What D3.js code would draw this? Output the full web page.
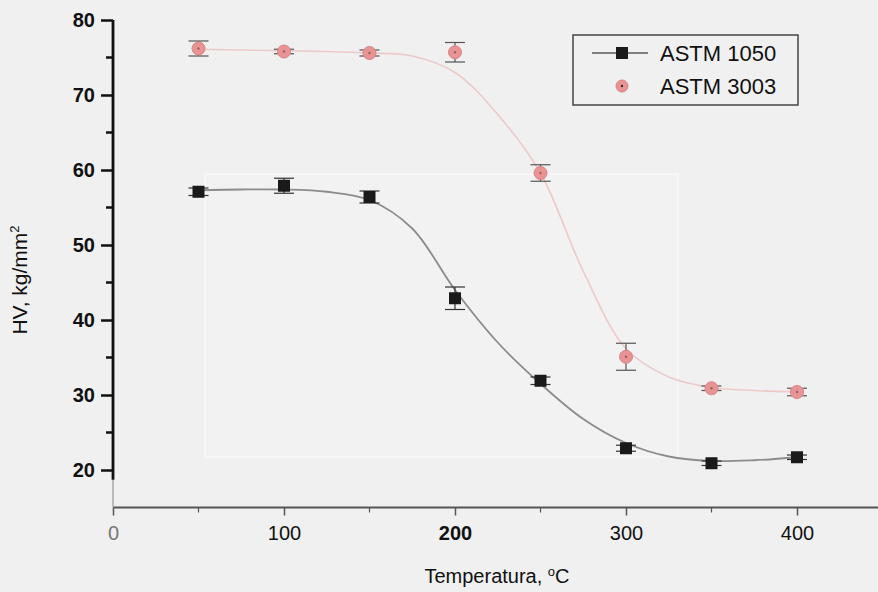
<!DOCTYPE html>
<html>
<head>
<meta charset="utf-8">
<script src="https://cdn.jsdelivr.net/npm/d3@7"></script>
<style>
  body { margin: 0; background: #f0f0f0; }
  svg { display: block; font-family: "Liberation Sans", Arial, sans-serif; }
</style>
</head>
<body>
<div id="chart"></div>
<script>
// data
var temps = [50, 100, 150, 200, 250, 300, 350, 400];
var hv1050 = [57.1, 57.9, 56.4, 42.9, 31.9, 22.9, 20.9, 21.7];
var err1050 = [0.5, 1.0, 0.8, 1.5, 0.5, 0.4, 0.3, 0.3];
var hv3003 = [76.2, 75.8, 75.6, 75.7, 59.6, 35.1, 30.9, 30.4];
var err3003 = [1.0, 0.3, 0.4, 1.3, 1.1, 1.8, 0.3, 0.5];

// fitted curves, points
var fitTemps = [50, 75, 100, 125, 150, 175, 200, 225, 250, 275, 300, 325, 350, 375, 400];
var fit1050 = [57.3, 57.4, 57.4, 57.1, 56.0, 52.2, 44.0, 37.0, 31.5, 26.8, 23.6, 21.8, 21.2, 21.3, 21.7];
var fit3003 = [76.1, 76.0, 75.9, 75.8, 75.6, 75.2, 73.0, 67.4, 59.6, 46.5, 36.2, 32.4, 31.0, 30.6, 30.4];

var seriesNames = ["ASTM 1050", "ASTM 3003"];
var xTicks = [0, 100, 200, 300, 400];
var xMinor = [50, 150, 250, 350];
var yTicks = [20, 30, 40, 50, 60, 70, 80];
var yMinor = [25, 35, 45, 55, 65, 75];

var svgWidth = 878, svgHeight = 592;

var svg = d3.select("#chart").append("svg")
  .attr("width", svgWidth)
  .attr("height", svgHeight);

svg.append("rect")
  .attr("width", svgWidth).attr("height", svgHeight)
  .attr("fill", "#f0f0f0");

// scales
var x = d3.scaleLinear().domain([0, 400]).range([113, 797]);
var y = d3.scaleLinear().domain([20, 80]).range([470, 20]);
var yBase = y(15);

// faint lighter box (scan artifact)
svg.append("rect")
  .attr("x", 205).attr("y", 174)
  .attr("width", 473).attr("height", 283)
  .attr("fill", "#f2f2f2")
  .attr("stroke", "#fafafa")
  .attr("stroke-width", 1.2);

// x axis
var xAxis = svg.append("g")
  .attr("transform", `translate(0, ${yBase})`)
  .call(d3.axisBottom(x).tickValues(xTicks).tickSize(8).tickPadding(10).tickFormat(d3.format("d")));
xAxis.select(".domain").remove();
xAxis.selectAll(".tick line").attr("stroke", "#555").attr("stroke-width", 1.5);
xAxis.selectAll(".tick text")
  .attr("fill", d => d === 0 ? "#777" : "#111")
  .style("font-size", "20px")
  .style("font-weight", d => d === 200 ? "bold" : "normal");

svg.append("g").selectAll("line")
  .data(xMinor)
  .enter()
  .append("line")
  .attr("x1", d => x(d)).attr("x2", d => x(d))
  .attr("y1", yBase).attr("y2", yBase + 5)
  .attr("stroke", "#555").attr("stroke-width", 1.2);

svg.append("line")
  .attr("x1", x(0)).attr("x2", svgWidth)
  .attr("y1", yBase).attr("y2", yBase)
  .attr("stroke", "#555").attr("stroke-width", 2);

// y axis
var yAxis = svg.append("g")
  .attr("transform", `translate(${x(0)}, 0)`)
  .call(d3.axisLeft(y).tickValues(yTicks).tickSize(12).tickPadding(6));
yAxis.select(".domain").remove();
yAxis.selectAll(".tick line").attr("stroke", "#111").attr("stroke-width", 2.5);
yAxis.selectAll(".tick text")
  .attr("fill", "#111")
  .style("font-size", "20px")
  .style("font-weight", "bold");

svg.append("g").selectAll("line")
  .data(yMinor)
  .enter()
  .append("line")
  .attr("x1", x(0) - 7).attr("x2", x(0))
  .attr("y1", d => y(d)).attr("y2", d => y(d))
  .attr("stroke", "#111").attr("stroke-width", 2.5);

svg.append("line")
  .attr("x1", x(0)).attr("x2", x(0))
  .attr("y1", y(18.7)).attr("y2", yBase)
  .attr("stroke", "#aaa").attr("stroke-width", 1.5);
svg.append("line")
  .attr("x1", x(0)).attr("x2", x(0))
  .attr("y1", y(80)).attr("y2", y(18.7))
  .attr("stroke", "#111").attr("stroke-width", 2.8);

// fit lines
var line = d3.line()
  .x(d => x(d[0]))
  .y(d => y(d[1]))
  .curve(d3.curveCatmullRom);

svg.append("path")
  .datum(fitTemps.map((t, i) => [t, fit3003[i]]))
  .attr("d", line)
  .attr("fill", "none")
  .attr("stroke", "#eccaca")
  .attr("stroke-width", 1.6);

svg.append("path")
  .datum(fitTemps.map((t, i) => [t, fit1050[i]]))
  .attr("d", line)
  .attr("fill", "none")
  .attr("stroke", "#8c8c8c")
  .attr("stroke-width", 1.8);

// error bars
function errorBars(vals, errs, color) {
  var g = svg.append("g").attr("stroke", color).attr("stroke-width", 1.2);
  temps.forEach(function(t, i) {
    var cx = x(t), top = y(vals[i] + errs[i]), bot = y(vals[i] - errs[i]);
    g.append("line").attr("x1", cx).attr("x2", cx).attr("y1", top).attr("y2", bot);
    g.append("line").attr("x1", cx - 10).attr("x2", cx + 10).attr("y1", top).attr("y2", top);
    g.append("line").attr("x1", cx - 10).attr("x2", cx + 10).attr("y1", bot).attr("y2", bot);
  });
}
errorBars(hv3003, err3003, "#555");
errorBars(hv1050, err1050, "#333");

// markers
var pink = svg.append("g").selectAll("g")
  .data(temps)
  .enter()
  .append("g")
  .attr("transform", (d, i) => `translate(${x(d)}, ${y(hv3003[i])})`);
pink.append("circle")
  .attr("r", 6.5)
  .attr("fill", "#e89494")
  .attr("stroke", "#db8282")
  .attr("stroke-width", 1);
pink.append("circle")
  .attr("r", 1.2)
  .attr("fill", "#9a6060");

svg.append("g").selectAll("rect")
  .data(temps)
  .enter()
  .append("rect")
  .attr("x", d => x(d) - 6)
  .attr("y", (d, i) => y(hv1050[i]) - 6)
  .attr("width", 12).attr("height", 12)
  .attr("fill", "#1a1a1a");

// axis titles
var xTitle = svg.append("text")
  .attr("x", 497).attr("y", 583)
  .attr("text-anchor", "middle")
  .attr("fill", "#111")
  .style("font-size", "20px");
xTitle.append("tspan").text("Temperatura, ");
xTitle.append("tspan").attr("dy", -7).style("font-size", "13px").text("o");
xTitle.append("tspan").attr("dy", 7).text("C");

var yTitle = svg.append("text")
  .attr("transform", "translate(27, 280) rotate(-90)")
  .attr("text-anchor", "middle")
  .attr("fill", "#111")
  .style("font-size", "21px");
yTitle.append("tspan").text("HV, kg/mm");
yTitle.append("tspan").attr("dy", -8).style("font-size", "13px").text("2");

// legend
var legend = svg.append("g");
legend.append("rect")
  .attr("x", 573).attr("y", 35)
  .attr("width", 225).attr("height", 70)
  .attr("fill", "#f0f0f0")
  .attr("stroke", "#444")
  .attr("stroke-width", 1.5);

legend.append("line")
  .attr("x1", 592).attr("x2", 648).attr("y1", 53).attr("y2", 53)
  .attr("stroke", "#111").attr("stroke-width", 1);
legend.append("rect")
  .attr("x", 616).attr("y", 47).attr("width", 12).attr("height", 12)
  .attr("fill", "#1a1a1a");
legend.append("circle")
  .attr("cx", 622).attr("cy", 86).attr("r", 6)
  .attr("fill", "#e89494").attr("stroke", "#db8282");
legend.append("circle")
  .attr("cx", 622).attr("cy", 86).attr("r", 1.2)
  .attr("fill", "#333");

legend.selectAll("text.lab")
  .data(seriesNames)
  .enter()
  .append("text")
  .attr("class", "lab")
  .attr("x", 660)
  .attr("y", (d, i) => 61 + i * 33)
  .attr("fill", "#111")
  .style("font-size", "22px")
  .text(d => d);
</script>
</body>
</html>
